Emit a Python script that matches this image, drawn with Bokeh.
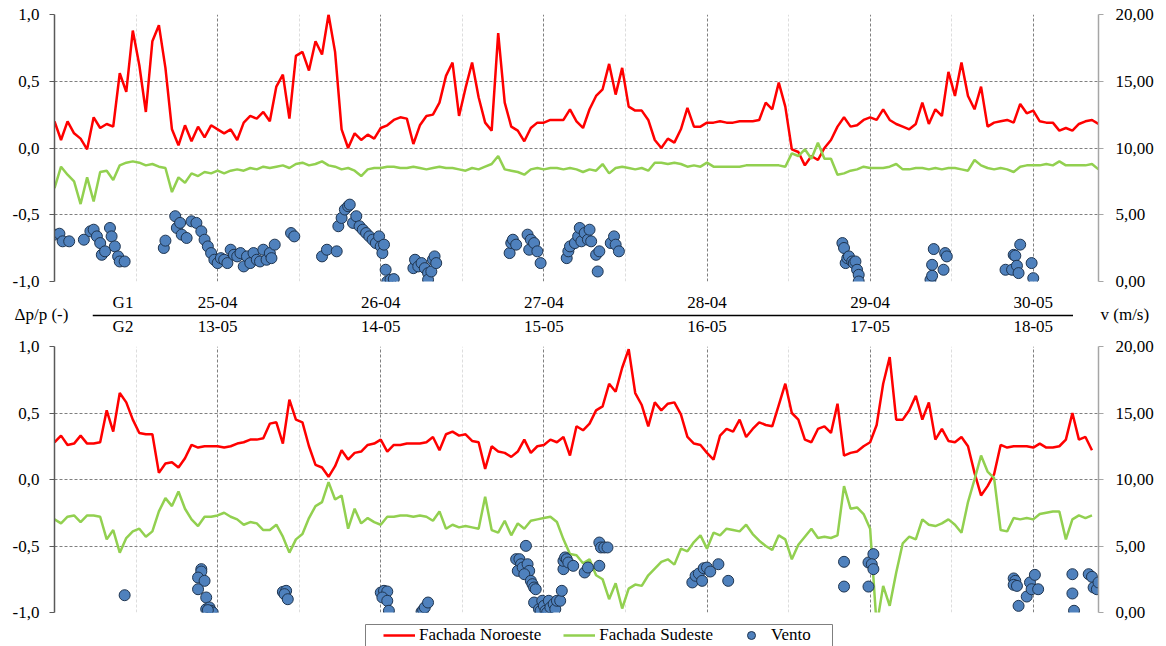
import numpy as np
from bokeh.plotting import figure
from bokeh.models import (Range1d, LinearAxis, FixedTicker, CustomJSTickFormatter,
                          Legend, LegendItem)
from bokeh.core.properties import value
from bokeh.layouts import column, row
from bokeh.embed import file_html
from bokeh.resources import INLINE

# ---------------- data ----------------
g1_dates = ["25-04", "26-04", "27-04", "28-04", "29-04", "30-05"]
g2_dates = ["13-05", "14-05", "15-05", "16-05", "17-05", "18-05"]
day_pos = [1, 2, 3, 4, 5, 6]
step_days = 0.04

red_g1 = [0.2, 0.06, 0.2, 0.11, 0.07, -0.01, 0.23, 0.15, 0.18, 0.16,
          0.56, 0.42, 0.88, 0.62, 0.27, 0.8, 0.92, 0.6,
          0.14, 0.02, 0.17, 0.05, 0.16, 0.08, 0.17, 0.14, 0.11, 0.14,
          0.06, 0.19, 0.24, 0.22, 0.27, 0.2,
          0.46, 0.55, 0.22, 0.69, 0.72, 0.58, 0.8, 0.7, 1.0, 0.72,
          0.14, 0.0, 0.11, 0.06, 0.1, 0.07, 0.15, 0.17, 0.21,
          0.23, 0.22, 0.03, 0.17, 0.24, 0.25, 0.34, 0.54, 0.64, 0.24,
          0.45, 0.64, 0.38, 0.19, 0.13, 0.86, 0.34, 0.16, 0.13, 0.05,
          0.15, 0.19, 0.19, 0.21, 0.21, 0.21, 0.29, 0.2, 0.15, 0.29,
          0.39, 0.44, 0.63, 0.4, 0.6, 0.31, 0.28, 0.28, 0.21, 0.06,
          0.0, 0.07, 0.04, 0.14, 0.3, 0.16, 0.16, 0.19, 0.19, 0.2,
          0.19, 0.19, 0.2, 0.2, 0.2, 0.21, 0.34, 0.29, 0.49,
          0.31, -0.01, -0.03, -0.13, -0.06, -0.09, 0.0, 0.06, 0.16, 0.23,
          0.16, 0.17, 0.21, 0.23, 0.21, 0.29, 0.21, 0.18, 0.16, 0.14,
          0.18, 0.34, 0.18, 0.29, 0.24, 0.57, 0.39, 0.64, 0.39, 0.29,
          0.46, 0.16, 0.19, 0.2, 0.21, 0.19, 0.33, 0.26, 0.28, 0.2,
          0.19, 0.19, 0.13, 0.15, 0.13, 0.18, 0.2, 0.21, 0.18]

green_g1 = [-0.3, -0.14, -0.2, -0.25, -0.42, -0.22, -0.4, -0.18, -0.17, -0.24,
            -0.13, -0.11, -0.1, -0.11, -0.13, -0.12, -0.14, -0.15,
            -0.33, -0.22, -0.26, -0.19, -0.21, -0.18, -0.19, -0.17, -0.19, -0.17,
            -0.16, -0.17, -0.15, -0.16, -0.14, -0.15, -0.14, -0.13, -0.15, -0.12,
            -0.11, -0.13, -0.12, -0.1, -0.13, -0.14, -0.16, -0.15, -0.17, -0.21,
            -0.16, -0.15, -0.15, -0.14, -0.14,
            -0.15, -0.15, -0.14, -0.15, -0.16, -0.15, -0.14, -0.15, -0.15, -0.16,
            -0.17, -0.15, -0.16, -0.14, -0.12, -0.06, -0.16, -0.17, -0.18, -0.2,
            -0.16, -0.15, -0.16, -0.15, -0.15, -0.16, -0.15, -0.16, -0.18, -0.16,
            -0.17, -0.12, -0.19, -0.15, -0.14, -0.15, -0.16, -0.15, -0.17, -0.11,
            -0.11, -0.12, -0.11, -0.12, -0.14, -0.13, -0.14, -0.11, -0.14, -0.14,
            -0.14, -0.14, -0.14, -0.13, -0.13, -0.13, -0.13, -0.13, -0.13,
            -0.14, -0.04, -0.06, -0.01, -0.08, 0.04, -0.08, -0.08, -0.2, -0.19,
            -0.17, -0.16, -0.14, -0.15, -0.15, -0.15, -0.14, -0.12, -0.16, -0.16,
            -0.15, -0.15, -0.16, -0.15, -0.16, -0.15, -0.15, -0.16, -0.17, -0.09,
            -0.13, -0.15, -0.16, -0.15, -0.16, -0.18, -0.14, -0.13, -0.13, -0.13,
            -0.12, -0.13, -0.1, -0.13, -0.13, -0.13, -0.13, -0.12, -0.16]

red_g2 = [0.28, 0.33, 0.26, 0.27, 0.33, 0.27, 0.27, 0.28, 0.52, 0.36,
          0.65, 0.58, 0.45, 0.35, 0.34, 0.34, 0.05, 0.12, 0.13, 0.09,
          0.16, 0.26, 0.24, 0.25, 0.25, 0.25, 0.24, 0.25, 0.27, 0.28,
          0.3, 0.3, 0.31, 0.42, 0.43, 0.27, 0.6, 0.45, 0.43, 0.25,
          0.11, 0.09, 0.02, 0.1, 0.22, 0.15, 0.2, 0.21, 0.26, 0.27,
          0.3, 0.21, 0.26,
          0.26, 0.27, 0.27, 0.27, 0.28, 0.32, 0.22, 0.34, 0.36, 0.33,
          0.34, 0.29, 0.28, 0.08, 0.25, 0.21, 0.2, 0.17, 0.21, 0.3,
          0.2, 0.25, 0.26, 0.3, 0.28, 0.32, 0.18, 0.4, 0.37, 0.42,
          0.52, 0.55, 0.72, 0.66, 0.84, 0.98, 0.65, 0.56, 0.4, 0.58,
          0.52, 0.57, 0.58, 0.49, 0.32, 0.27, 0.26, 0.2, 0.15, 0.33,
          0.38, 0.36, 0.45, 0.32, 0.38, 0.43, 0.41, 0.4, 0.56,
          0.72, 0.5, 0.45, 0.3, 0.28, 0.38, 0.4, 0.35, 0.57, 0.18,
          0.2, 0.21, 0.25, 0.28, 0.41, 0.72, 0.92, 0.45, 0.45, 0.52,
          0.63, 0.45, 0.58, 0.3, 0.38, 0.29, 0.28, 0.32, 0.25, 0.05,
          -0.12, -0.05, 0.04, 0.26, 0.24, 0.25, 0.25, 0.25, 0.24, 0.27,
          0.24, 0.24, 0.25, 0.3, 0.5, 0.3, 0.32, 0.22]

green_g2 = [-0.3, -0.33, -0.28, -0.27, -0.32, -0.27, -0.27, -0.28, -0.45, -0.38,
            -0.55, -0.44, -0.39, -0.37, -0.43, -0.39, -0.24, -0.14, -0.2, -0.09,
            -0.22, -0.3, -0.35, -0.28, -0.28, -0.27, -0.25, -0.28, -0.3, -0.34,
            -0.32, -0.33, -0.38, -0.38, -0.34, -0.43, -0.55, -0.45, -0.41, -0.29,
            -0.2, -0.17, -0.02, -0.15, -0.12, -0.37, -0.22, -0.33, -0.29, -0.32,
            -0.34, -0.28, -0.28,
            -0.27, -0.27, -0.28, -0.27, -0.28, -0.31, -0.24, -0.37, -0.34, -0.36,
            -0.35, -0.36, -0.37, -0.13, -0.38, -0.4, -0.31, -0.42, -0.33, -0.37,
            -0.31, -0.3, -0.29, -0.28, -0.32, -0.45, -0.56, -0.57, -0.63, -0.6,
            -0.72, -0.75, -0.9, -0.78, -0.97, -0.82, -0.79, -0.8, -0.72, -0.67,
            -0.62, -0.6, -0.64, -0.52, -0.54, -0.47, -0.42, -0.52, -0.4, -0.42,
            -0.37, -0.38, -0.39, -0.34, -0.41, -0.46, -0.5, -0.53, -0.42,
            -0.45, -0.6, -0.49, -0.43, -0.37, -0.44, -0.43, -0.44, -0.42, -0.05,
            -0.22, -0.21, -0.26, -0.37, -1.1, -0.8, -0.95, -0.7, -0.48, -0.43,
            -0.45, -0.3, -0.34, -0.35, -0.33, -0.3, -0.34, -0.4, -0.17, 0.0,
            0.18, 0.06, 0.01, -0.38, -0.39, -0.29, -0.3, -0.29, -0.3, -0.26,
            -0.25, -0.24, -0.24, -0.45, -0.3, -0.27, -0.29, -0.27]

wind_g1_t = [0.00, 0.03, 0.05, 0.09, 0.18, 0.22, 0.24, 0.26, 0.28, 0.29, 0.31, 0.34,
             0.35, 0.37, 0.39, 0.40, 0.43, 0.67, 0.68, 0.74, 0.75, 0.77, 0.78, 0.81,
             0.84, 0.87, 0.90, 0.92, 0.94, 0.96, 0.98, 1.00, 1.02, 1.04, 1.06, 1.08,
             1.10, 1.12, 1.14, 1.16, 1.18, 1.20, 1.22, 1.24, 1.26, 1.28, 1.30, 1.32,
             1.33, 1.35, 1.45, 1.47, 1.64, 1.67, 1.73, 1.74, 1.76, 1.78, 1.80, 1.81,
             1.83, 1.85, 1.87, 1.89, 1.91, 1.93, 1.95, 1.97, 1.99, 2.00, 2.01, 2.02,
             2.03, 2.04, 2.06, 2.08, 2.20, 2.21, 2.23, 2.25, 2.27, 2.29, 2.29, 2.31,
             2.32, 2.33, 2.34, 2.79, 2.80, 2.81, 2.83, 2.90, 2.91, 2.92, 2.94, 2.96,
             2.98, 3.14, 3.15, 3.16, 3.19, 3.21, 3.22, 3.23, 3.25, 3.27, 3.28, 3.29,
             3.32, 3.33, 3.34, 3.41, 3.43, 3.44, 3.46, 4.83, 4.84, 4.85, 4.86, 4.87,
             4.89, 4.90, 4.91, 4.92, 4.93, 4.93, 5.37, 5.38, 5.38, 5.39, 5.45, 5.46,
             5.47, 5.83, 5.87, 5.88, 5.89, 5.90, 5.91, 5.92, 5.99, 6.00]
wind_g1_v = [3.51, 3.58, 3.01, 3.01, 3.13, 3.76, 3.88, 3.38, 2.88, 2.00, 2.26, 4.01,
             3.38, 2.63, 1.88, 1.50, 1.50, 2.51, 3.06, 4.89, 4.01, 4.39, 3.51, 3.26,
             4.51, 4.39, 3.76, 3.13, 2.63, 2.13, 1.63, 1.38, 1.75, 1.63, 1.38, 2.38,
             2.00, 1.88, 2.13, 1.13, 1.88, 1.38, 2.13, 1.63, 1.50, 2.38, 1.63, 2.13,
             1.75, 2.76, 3.63, 3.38, 1.88, 2.38, 2.26, 4.14, 4.76, 5.39, 5.64, 5.76,
             4.39, 4.89, 4.14, 3.88, 3.63, 3.38, 3.13, 2.88, 3.38, 2.63, 2.13, 2.76,
             0.88, 0.00, 0.13, 0.18, 1.00, 1.63, 1.13, 1.38, 1.00, 0.63, 0.13, 0.75,
             1.63, 1.88, 1.38, 2.13, 2.88, 3.13, 2.76, 3.51, 2.38, 3.13, 2.88, 2.26,
             1.38, 1.75, 2.26, 2.63, 2.88, 3.38, 4.01, 3.01, 3.63, 3.13, 3.88, 3.01,
             2.00, 0.75, 2.26, 2.88, 3.38, 2.76, 2.26, 2.88, 2.51, 1.38, 1.75, 1.88,
             1.50, 1.38, 1.50, 0.88, 0.50, 0.00, 0.13, 0.43, 1.25, 2.43, 0.88, 2.13,
             1.88, 0.88, 0.88, 2.00, 1.93, 1.18, 0.63, 2.76, 1.38, 0.25]

wind_g2_t = [0.43, 0.90, 0.90, 0.88, 0.92, 0.88, 0.93, 0.93, 0.95, 0.96, 0.97, 0.94,
             1.40, 1.42, 1.41, 1.43, 2.00, 2.02, 2.04, 2.01, 2.04, 2.05, 2.25, 2.26,
             2.27, 2.29, 2.83, 2.85, 2.86, 2.89, 2.84, 2.87, 2.90, 2.91, 2.88, 2.92,
             2.93, 2.94, 2.95, 2.94, 2.97, 2.98, 2.99, 3.00, 3.01, 3.02, 3.03, 3.04,
             3.06, 3.07, 3.08, 3.10, 3.11, 3.12, 3.12, 3.13, 3.14, 3.15, 3.18, 3.25,
             3.27, 3.34, 3.35, 3.37, 3.39, 3.34, 3.91, 3.93, 3.95, 3.97, 3.98, 4.00,
             4.02, 4.07, 4.13, 4.84, 4.84, 4.99, 4.99, 5.02, 5.01, 5.02, 5.88, 5.89,
             5.88, 5.90, 5.91, 5.96, 5.98, 5.99, 6.01, 6.03, 6.24, 6.24, 6.25, 6.34,
             6.36, 6.37, 6.39, 6.40]
wind_g2_v = [1.30, 3.26, 3.08, 2.63, 2.38, 1.75, 1.13, 0.25, 0.38, 0.13, 0.00, 0.18,
             1.55, 1.63, 1.38, 1.00, 1.50, 1.63, 1.58, 1.13, 0.88, 0.13, 0.05, 0.18,
             0.38, 0.75, 4.01, 4.01, 3.63, 5.01, 3.13, 3.38, 3.63, 3.13, 2.88, 2.38,
             2.13, 1.88, 1.75, 0.75, 0.25, 0.13, 0.88, 0.50, 0.13, 0.00, 0.88, 0.38,
             0.63, 0.25, 0.88, 0.88, 1.63, 3.26, 3.88, 4.14, 4.01, 3.76, 3.51, 3.01,
             3.38, 5.26, 4.89, 4.89, 4.89, 3.51, 2.26, 2.76, 2.93, 2.38, 3.33, 3.38,
             3.08, 3.63, 2.38, 3.81, 1.95, 1.95, 3.76, 4.39, 3.63, 3.26, 2.56, 2.38,
             2.08, 2.00, 0.50, 1.20, 2.26, 1.75, 2.83, 1.75, 2.88, 1.43, 0.13, 2.88,
             2.68, 1.88, 1.75, 2.26]

t_g1 = np.arange(len(red_g1)) * step_days
t_g2 = np.arange(len(red_g2)) * step_days

# ---------------- styling ----------------
FONT = "Liberation Serif"
FS = "17px"
RED = "#FF0000"
GREEN = "#92D050"
BLUE = "#4F81BD"
EDGE = "#1F3550"
GRID = "#808080"
W = 1166
LEFT = 54
RIGHT_EDGE = 1098
PX_PER_DAY = (RIGHT_EDGE - LEFT) / 6.4


def make_panel(height, border_top, border_bottom):
    p = figure(width=W, height=height, x_range=Range1d(0, 6.4), y_range=Range1d(-1, 1),
               output_backend="svg", toolbar_location=None, x_axis_location=None,
               min_border_left=LEFT, min_border_right=W - RIGHT_EDGE,
               min_border_top=border_top, min_border_bottom=border_bottom)
    p.outline_line_color = None
    p.extra_y_ranges = {"v": Range1d(0, 20)}

    yax = p.yaxis[0]
    yax.ticker = FixedTicker(ticks=[-1, -0.5, 0, 0.5, 1])
    yax.formatter = CustomJSTickFormatter(code="return tick.toFixed(1).replace('.', ',')")
    yax.axis_line_color = "#595959"
    yax.axis_line_width = 1.5
    yax.major_tick_line_color = "#595959"
    yax.major_tick_out = 5
    yax.major_tick_in = 0
    yax.minor_tick_line_color = None
    yax.major_label_standoff = 10
    yax.major_label_text_font = FONT
    yax.major_label_text_font_size = FS
    yax.major_label_text_color = "black"

    ra = LinearAxis(y_range_name="v", ticker=FixedTicker(ticks=[0, 5, 10, 15, 20]),
                    formatter=CustomJSTickFormatter(code="return tick.toFixed(2).replace('.', ',')"))
    ra.axis_line_color = "#A6A6A6"
    ra.axis_line_width = 1.5
    ra.major_tick_line_color = "#A6A6A6"
    ra.major_tick_out = 5
    ra.major_tick_in = 0
    ra.minor_tick_line_color = None
    ra.major_label_standoff = 12
    ra.major_label_text_font = FONT
    ra.major_label_text_font_size = FS
    ra.major_label_text_color = "black"
    p.add_layout(ra, "right")

    p.xgrid.ticker = FixedTicker(ticks=day_pos, minor_ticks=[0.5, 1.5, 2.5, 3.5, 4.5, 5.5])
    p.xgrid.grid_line_color = GRID
    p.xgrid.grid_line_dash = "3 2"
    p.xgrid.grid_line_width = 1
    p.xgrid.minor_grid_line_color = "#DDDDDD"
    p.xgrid.minor_grid_line_dash = "3 2"
    p.ygrid.ticker = FixedTicker(ticks=[-1, -0.5, 0, 0.5, 1])
    p.ygrid.grid_line_color = GRID
    p.ygrid.grid_line_dash = "3 2"
    p.ygrid.grid_line_width = 1
    return p


def bare(width, height, xr, yr):
    p = figure(width=width, height=height, x_range=xr, y_range=yr,
               output_backend="svg", toolbar_location=None,
               x_axis_location=None, y_axis_location=None,
               min_border_left=0, min_border_right=0, min_border_top=0, min_border_bottom=0)
    p.outline_line_color = None
    p.grid.visible = False
    return p


# ---------------- top panel (G1) ----------------
top = make_panel(291, 14, 10)
top.line(t_g1, red_g1, color=RED, line_width=2.5)
top.line(t_g1, green_g1, color=GREEN, line_width=2.5)
top.scatter(wind_g1_t, wind_g1_v, y_range_name="v", size=11, fill_color=BLUE,
            line_color=EDGE, line_width=1)

# ---------------- strip between the panels ----------------
MID_TOP, MID_BOT = 291, 336
SEP_L, SEP_R = 92, 1073
txt = dict(text_font=value(FONT), text_font_size=value(FS), text_color="black",
           text_baseline="middle")

mid_l = bare(SEP_L, MID_BOT - MID_TOP, Range1d(0, SEP_L), Range1d(MID_BOT, MID_TOP))
mid_l.text(x=[14], y=[314], text=["Δp/p (-)"], text_align="left", **txt)

mid_c = bare(SEP_R - SEP_L, MID_BOT - MID_TOP,
             Range1d((SEP_L - LEFT) / PX_PER_DAY, (SEP_R - LEFT) / PX_PER_DAY),
             Range1d(MID_BOT, MID_TOP))
mid_c.text(x=[0.42] + day_pos, y=[301.5] * 7, text=["G1"] + g1_dates, text_align="center", **txt)
mid_c.text(x=[0.42] + day_pos, y=[325.5] * 7, text=["G2"] + g2_dates, text_align="center", **txt)
mid_c.segment(x0=[(SEP_L - LEFT) / PX_PER_DAY], x1=[(SEP_R - LEFT) / PX_PER_DAY],
              y0=[315], y1=[315], line_color="black", line_width=1.5)

mid_r = bare(W - SEP_R, MID_BOT - MID_TOP, Range1d(SEP_R, W), Range1d(MID_BOT, MID_TOP))
mid_r.text(x=[1100], y=[314], text=["v (m/s)"], text_align="left", **txt)

mid = row(mid_l, mid_c, mid_r, spacing=0)

# ---------------- bottom panel (G2) ----------------
bot = make_panel(286, 10, 10)
r_red = bot.line(t_g2, red_g2, color=RED, line_width=2.5)
r_green = bot.line(t_g2, green_g2, color=GREEN, line_width=2.5)
r_wind = bot.scatter(wind_g2_t, wind_g2_v, y_range_name="v", size=11, fill_color=BLUE,
                     line_color=EDGE, line_width=1)

# ---------------- legend strip ----------------
LEG_TOP = 622
leg = bare(W, 646 - LEG_TOP, Range1d(LEFT, RIGHT_EDGE), Range1d(646, LEG_TOP))
leg.quad(left=[365], right=[832], top=[624], bottom=[652], fill_color="white",
         line_color="#7F7F7F", line_width=1)
# legend swatches share the styles of the bottom-panel renderers (kept off-canvas)
s_red = leg.line([LEFT, LEFT + 1], [900, 900], color=RED, line_width=2.5)
s_green = leg.line([LEFT, LEFT + 1], [900, 900], color=GREEN, line_width=2.5)
s_wind = leg.scatter([LEFT], [900], size=11, fill_color=BLUE, line_color=EDGE, line_width=1)
legend = Legend(items=[LegendItem(label="Fachada Noroeste", renderers=[s_red]),
                       LegendItem(label="Fachada Sudeste", renderers=[s_green]),
                       LegendItem(label="Vento", renderers=[s_wind])],
                orientation="horizontal", location=(383 - LEFT, 1),
                label_text_font=FONT, label_text_font_size=FS, label_text_color="black",
                glyph_width=32, glyph_height=20, label_height=20, label_standoff=4, spacing=22,
                padding=0, margin=0, border_line_color=None,
                background_fill_alpha=0)
leg.add_layout(legend)

layout = column(top, mid, bot, leg, spacing=0)
open("out.html", "w").write(file_html(layout, INLINE))
